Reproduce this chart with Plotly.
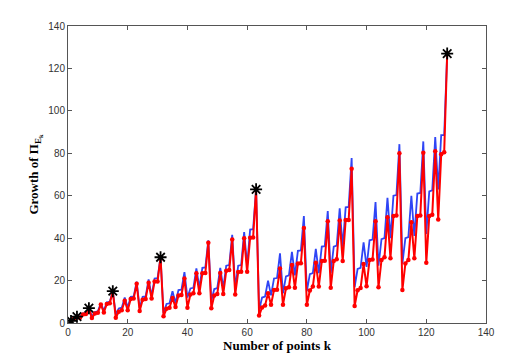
import plotly.graph_objects as go

# number of points k
k = list(range(1, 128))

# growth of Pi_{E_k}, red curve (with dots)
red = [
    1, 2, 3, 2.5, 4, 4.3, 7, 2.3, 4.5, 4.8, 8.7, 5, 9, 9.3, 15,
    2.5, 5.3, 6, 10.5, 6, 11.3, 11.6, 18.5, 5.7, 11, 11.3, 19, 11.5, 19.6, 19.6, 31,
    3.2, 6.7, 7.2, 11.8, 7.5, 13, 13.2, 21, 7.2, 13.4, 14, 23.4, 14, 23.4, 23.6, 37.8,
    7, 13, 13.7, 23.6, 13.7, 24.6, 25, 39.4, 13.4, 24, 24.2, 40, 24.1, 40.2, 40.3, 63,
    3.5, 7.3, 8.3, 14, 8.6, 15.6, 15.7, 25.7, 8.6, 16.4, 16.9, 27.3, 16.6, 28.1, 28.2, 44.8,
    8.6, 15.3, 17.2, 28.4, 17.2, 29.2, 29.3, 48, 16.6, 29.2, 30, 48.3, 29.2, 48.5, 48.6, 72.7,
    8, 15.4, 16.5, 27.8, 17.3, 29.7, 29.9, 48, 16.9, 29.7, 31, 49.8, 30.5, 50.4, 50.7, 80,
    15.6, 28.1, 29.7, 47.5, 30.5, 50.4, 50.7, 80.2, 28.4, 50.4, 51, 81, 48.8, 79.5, 80.5, 127,
]

# blue curve (no markers)
blue = [
    1, 2.2, 3, 3, 4.5, 4.8, 7, 3, 5.2, 5.5, 9.3, 5.8, 9.8, 10, 15,
    4.2, 6.8, 7.2, 12, 7.3, 12.3, 12.5, 19.5, 7, 12.3, 12.5, 20.5, 12.8, 21, 21.2, 31,
    4.6, 9, 9.3, 15, 9.5, 15.5, 15.7, 24, 12, 16.3, 16.6, 25.7, 16.5, 26, 26.2, 39,
    10.5, 16, 16.5, 26, 16.5, 27, 27.3, 41.6, 16.5, 27, 27.3, 42.9, 27, 44, 44.2, 63,
    6, 12, 12.5, 20, 13, 21, 21.2, 32.8, 14, 22, 22.5, 33.5, 22.5, 34, 34.2, 50.4,
    15, 23, 23.5, 35, 23.5, 36, 36.2, 52.8, 23.5, 36, 36.5, 54, 36, 54.5, 54.7, 77.8,
    16.9, 25.5, 26, 38, 26.5, 39, 39.3, 57, 27, 39.5, 40, 59, 40, 60, 60.3, 84.3,
    28, 40, 40.5, 60, 41, 61, 61.3, 85.6, 42, 62, 62.5, 87.7, 63, 88.6, 88.6, 127,
]

# starred points k = 2^n - 1
star_k = [1, 3, 7, 15, 31, 63, 127]
star_v = [1, 3, 7, 15, 31, 63, 127]

fig = go.Figure()
fig.add_trace(go.Scatter(x=k, y=blue, mode="lines",
                         line=dict(color="#2f45f5", width=1.8), showlegend=False))
fig.add_trace(go.Scatter(x=k, y=red, mode="lines+markers",
                         line=dict(color="#ff0000", width=2),
                         marker=dict(color="#ff0000", size=4.5), showlegend=False))
fig.add_trace(go.Scatter(x=star_k, y=star_v, mode="markers",
                         marker=dict(symbol="asterisk-open", size=10, color="black",
                                     line=dict(color="black", width=1.8)),
                         showlegend=False))

axis_style = dict(
    range=[0, 140], dtick=20, ticks="inside", ticklen=4, tickcolor="#555",
    showline=True, linecolor="#555", linewidth=1, mirror="ticks",
    showgrid=False, zeroline=False,
    tickfont=dict(family="Liberation Sans, Arial", size=10, color="#333"),
)
fig.update_xaxes(**axis_style,
                 title=dict(text="<b>Number of points k</b>", standoff=3,
                            font=dict(family="Liberation Serif, Times New Roman", size=13, color="black")))
fig.update_yaxes(**axis_style,
                 title=dict(text="<b>Growth of Π<sub>E<sub>k</sub></sub></b>", standoff=6,
                            font=dict(family="Liberation Serif, Times New Roman", size=13, color="black")))
fig.update_layout(
    width=528, height=363,
    margin=dict(l=60, r=50, t=18, b=48),
    plot_bgcolor="white", paper_bgcolor="white",
)
fig.write_html("out.html")
